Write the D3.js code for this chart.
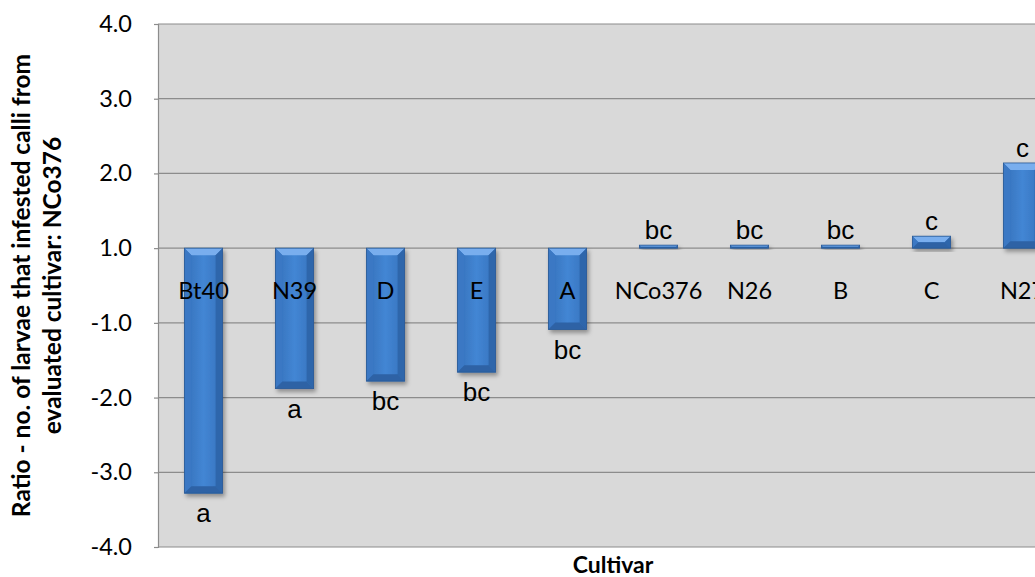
<!DOCTYPE html>
<html>
<head>
<meta charset="utf-8">
<script src="https://cdn.jsdelivr.net/npm/d3@7"></script>
<style>
  body { margin: 0; background: #fff; }
  svg { display: block; }
</style>
</head>
<body>
<div id="chart"></div>
<script>
// values
var cultivars = ['Bt40', 'N39', 'D', 'E', 'A', 'NCo376', 'N26', 'B', 'C', 'N27'];
var ratios = [-3.28, -1.88, -1.78, -1.66, -1.09, 1.04, 1.04, 1.04, 1.16, 2.14];
var groups = ['a', 'a', 'bc', 'bc', 'bc', 'bc', 'bc', 'bc', 'c', 'c'];
var yTicks = [-4, -3, -2, -1, 1, 2, 3, 4];

var width = 1035, height = 577;
var plotLeft = 158, plotRight = 1068, plotTop = 24, plotBottom = 547;
var step = (plotBottom - plotTop) / 7;

var data = cultivars.map(function(c, i) {
  return {name: c, v: ratios[i], g: groups[i]};
});

var svg = d3.select('#chart').append('svg')
  .attr('width', width)
  .attr('height', height);

svg.append('rect')
  .attr('width', width)
  .attr('height', height)
  .attr('fill', '#fff');

var defs = svg.append('defs');

var shadow = defs.append('filter')
  .attr('id', 'shadow')
  .attr('x', '-30%').attr('y', '-30%')
  .attr('width', '160%').attr('height', '160%');
shadow.append('feDropShadow')
  .attr('dx', 2).attr('dy', 3)
  .attr('stdDeviation', 2)
  .attr('flood-color', '#000')
  .attr('flood-opacity', 0.35);

var grad = defs.append('linearGradient')
  .attr('id', 'barFill')
  .attr('x1', 0).attr('x2', 1).attr('y1', 0).attr('y2', 0);
[['0%', '#3470b9'], ['50%', '#4386d4'], ['100%', '#3572bd']].forEach(function(s) {
  grad.append('stop').attr('offset', s[0]).attr('stop-color', s[1]);
});

// the axis has no zero: 1.0 is the baseline and -1.0 sits one step below it
var y = d3.scaleLinear()
  .domain([-4, -1, 1, 4])
  .range([plotBottom, plotBottom - 3 * step, plotBottom - 4 * step, plotTop]);

var x = d3.scaleBand()
  .domain(cultivars)
  .range([plotLeft, plotRight])
  .paddingInner(0.58)
  .paddingOuter(0.29);

// plot area
svg.append('rect')
  .attr('x', plotLeft)
  .attr('y', plotTop)
  .attr('width', plotRight - plotLeft)
  .attr('height', plotBottom - plotTop)
  .attr('fill', '#d9d9d9');

svg.append('g')
  .selectAll('line')
  .data(yTicks)
  .enter()
  .append('line')
  .attr('x1', plotLeft)
  .attr('x2', plotRight)
  .attr('y1', function(d) { return y(d); })
  .attr('y2', function(d) { return y(d); })
  .attr('stroke', '#8c8c8c')
  .attr('stroke-width', 1.2);

// y axis, plain hyphen for the minus sign
var yAxis = svg.append('g')
  .attr('transform', 'translate(' + plotLeft + ',0)')
  .call(d3.axisLeft(y)
    .tickValues(yTicks)
    .tickSize(4)
    .tickPadding(22)
    .tickFormat(function(d) { return d.toFixed(1); }));
yAxis.select('.domain').attr('stroke', '#8c8c8c').attr('stroke-width', 1.2);
yAxis.selectAll('.tick line').attr('stroke', '#8c8c8c').attr('stroke-width', 1.2);
yAxis.selectAll('text')
  .attr('font-family', 'Lato, sans-serif')
  .attr('font-size', 23.5)
  .attr('fill', '#000');

// bars
var bar = svg.append('g')
  .selectAll('g')
  .data(data)
  .enter()
  .append('g')
  .attr('filter', 'url(#shadow)');

bar.each(function(d) {
  var g = d3.select(this);
  var x0 = x(d.name), w = x.bandwidth();
  var yA = Math.min(y(1), y(d.v)), yB = Math.max(y(1), y(d.v));
  var b = Math.min(7, (yB - yA) / 2);
  var pts = function(p) { return p.map(function(q) { return q.join(','); }).join(' '); };

  g.append('rect')
    .attr('x', x0).attr('y', yA)
    .attr('width', w).attr('height', yB - yA)
    .attr('fill', 'url(#barFill)');
  // bevel edges
  g.append('polygon')
    .attr('points', pts([[x0, yA], [x0 + w, yA], [x0 + w - b, yA + b], [x0 + b, yA + b]]))
    .attr('fill', '#79aeee');
  g.append('polygon')
    .attr('points', pts([[x0, yA], [x0 + b, yA + b], [x0 + b, yB - b], [x0, yB]]))
    .attr('fill', '#3a78c4');
  g.append('polygon')
    .attr('points', pts([[x0 + w, yA], [x0 + w - b, yA + b], [x0 + w - b, yB - b], [x0 + w, yB]]))
    .attr('fill', '#2f66ab');
  g.append('polygon')
    .attr('points', pts([[x0, yB], [x0 + b, yB - b], [x0 + w - b, yB - b], [x0 + w, yB]]))
    .attr('fill', '#2d62a5');
  g.append('rect')
    .attr('x', x0).attr('y', yA)
    .attr('width', w).attr('height', yB - yA)
    .attr('fill', 'none')
    .attr('stroke', '#2a5a96')
    .attr('stroke-width', 0.8);
});

// significance letters
svg.append('g')
  .selectAll('text')
  .data(data)
  .enter()
  .append('text')
  .attr('x', function(d) { return x(d.name) + x.bandwidth() / 2; })
  .attr('y', function(d) { return d.v > 0 ? y(d.v) - 6 : y(d.v) + 29; })
  .attr('text-anchor', 'middle')
  .attr('font-family', '"Liberation Sans", Arial, sans-serif')
  .attr('font-size', 26)
  .attr('fill', '#000')
  .text(function(d) { return d.g; });

// category labels sit under the 1.0 baseline
var xAxis = svg.append('g')
  .attr('transform', 'translate(0,' + y(1) + ')')
  .call(d3.axisBottom(x).tickSize(0).tickPadding(34));
xAxis.select('.domain').remove();
xAxis.selectAll('text')
  .attr('font-family', 'Lato, sans-serif')
  .attr('font-size', 23.5)
  .attr('fill', '#000');

// axis titles
svg.append('text')
  .attr('x', (plotLeft + plotRight) / 2)
  .attr('y', 573)
  .attr('text-anchor', 'middle')
  .attr('font-family', 'Lato, sans-serif')
  .attr('font-weight', 'bold')
  .attr('font-size', 23)
  .text('Cultivar');

var yTitle = svg.append('text')
  .attr('transform', 'translate(0,' + (plotTop + plotBottom) / 2 + ') rotate(-90)')
  .attr('text-anchor', 'middle')
  .attr('font-family', 'Lato, sans-serif')
  .attr('font-weight', 'bold')
  .attr('font-size', 24.5);
yTitle.append('tspan').attr('x', 0).attr('y', 30)
  .text('Ratio - no. of larvae that infested calli from');
yTitle.append('tspan').attr('x', 0).attr('y', 61)
  .text('evaluated cultivar: NCo376');
</script>
</body>
</html>
